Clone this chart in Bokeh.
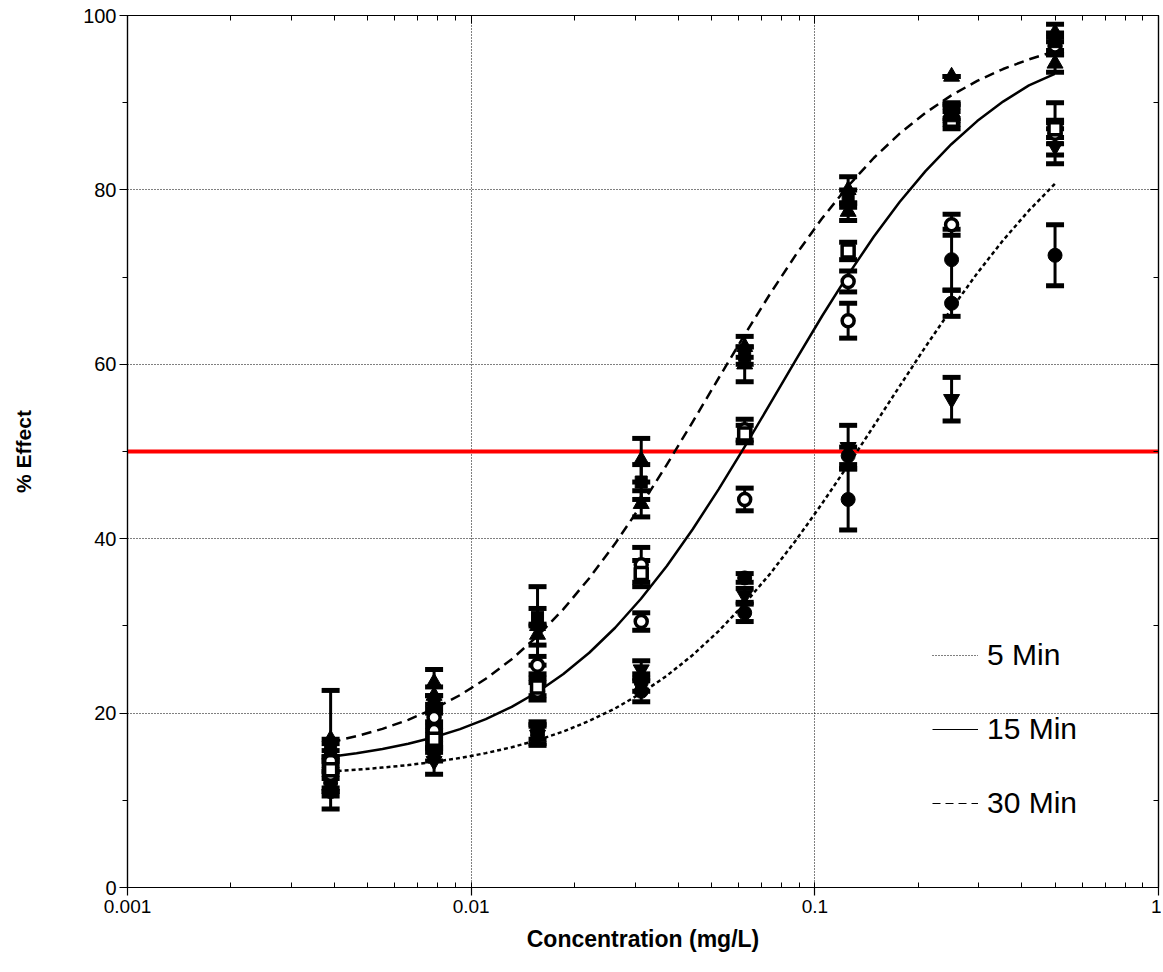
from bokeh.plotting import figure
from bokeh.models import (LogAxis, LinearAxis, LogTicker, SingleIntervalTicker, Span, Whisker,
                          TeeHead, ColumnDataSource, Legend, LegendItem, CustomJSTickFormatter, Range1d)
from bokeh.embed import file_html
from bokeh.resources import INLINE

# ---------------- data ----------------
conc = [0.0039, 0.0078, 0.0156, 0.03125, 0.0625, 0.125, 0.25, 0.5]

# 30 Min replicates
m30_a = [17.0, 23.5, 30.0, 49.0, 62.0, 80.0, 93.0, 98.0]
m30_a_sd = [5.6, 1.5, 4.5, 2.5, 1.2, 1.5, 0.0, 1.0]
m30_b = [15.5, 22.0, 29.0, 44.0, 60.0, 77.5, 89.0, 94.5]
m30_b_sd = [1.0, 1.0, 1.2, 1.5, 2.0, 1.0, 0.8, 1.0]
m30_c = [16.0, 21.0, 31.0, 46.5, 61.0, 79.0, 88.5, 97.0]
m30_c_sd = [1.0, 1.0, 1.0, 2.0, 1.0, 1.0, 1.0, 1.0]

# 15 Min replicates
m15_a = [14.5, 19.5, 25.5, 37.0, 52.5, 69.5, 89.0, 96.5]
m15_a_sd = [1.2, 1.0, 1.0, 2.0, 1.2, 1.2, 1.0, 1.0]
m15_b = [13.0, 18.0, 22.5, 30.5, 44.5, 65.0, 76.0, 86.5]
m15_b_sd = [2.0, 1.0, 1.0, 1.0, 1.3, 2.0, 1.2, 1.2]
m15_c = [13.5, 17.0, 23.0, 36.0, 52.0, 73.0, 88.0, 87.0]
m15_c_sd = [1.0, 1.0, 1.0, 1.5, 1.0, 1.0, 1.0, 1.0]

# 5 Min replicates
m5_a = [12.0, 16.5, 18.0, 22.5, 35.5, 49.5, 72.0, 87.0]
m5_a_sd = [1.5, 1.0, 1.0, 1.2, 0.5, 1.0, 3.5, 3.0]
m5_b = [11.0, 15.5, 17.5, 23.5, 31.5, 44.5, 67.0, 72.5]
m5_b_sd = [2.0, 1.0, 1.2, 1.0, 1.0, 3.5, 1.5, 3.5]
m5_c = [12.5, 14.5, 17.5, 25.0, 33.5, 50.5, 56.0, 85.0]
m5_c_sd = [1.5, 1.5, 1.0, 1.0, 0.8, 2.5, 2.5, 2.0]

# fitted dose-response curves
curve_x = [0.0039, 0.00464, 0.00552, 0.00656, 0.0078, 0.00928, 0.01103, 0.01312, 0.0156,
           0.01855, 0.02206, 0.02624, 0.0312, 0.0371, 0.04412, 0.05247, 0.0624, 0.07421,
           0.08825, 0.1049, 0.1248, 0.1484, 0.1765, 0.2099, 0.2496, 0.2968, 0.353, 0.4198, 0.4992]
curve_5 = [13.31, 13.51, 13.75, 14.04, 14.41, 14.85, 15.41, 16.08, 16.90, 17.89, 19.10, 20.54,
           22.26, 24.29, 26.66, 29.40, 32.53, 36.01, 39.86, 44.01, 48.40, 52.93, 57.49, 62.01,
           66.34, 70.44, 74.22, 77.64, 80.68]
curve_15 = [15.00, 15.39, 15.88, 16.48, 17.23, 18.16, 19.31, 20.71, 22.42, 24.48, 26.92, 29.79,
            33.11, 36.88, 41.08, 45.66, 50.50, 55.51, 60.56, 65.51, 70.23, 74.62, 78.61, 82.15,
            85.24, 87.89, 90.13, 91.99, 93.30]
curve_30 = [16.67, 17.35, 18.19, 19.23, 20.50, 22.06, 23.94, 26.18, 28.83, 31.92, 35.47, 39.44,
            43.81, 48.50, 53.40, 58.40, 63.35, 68.12, 72.61, 76.72, 80.41, 83.66, 86.46, 88.84,
            90.84, 92.50, 93.86, 94.97, 95.88]

legend_labels = ["5 Min", "15 Min", "30 Min"]
x_label = "Concentration (mg/L)"
y_label = "% Effect"
threshold = 50

# ---------------- figure ----------------
FONT = "Liberation Sans"
p = figure(width=1161, height=965, x_axis_type="log",
           x_range=Range1d(0.001, 1), y_range=Range1d(0, 100),
           output_backend="svg", toolbar_location=None,
           min_border_left=127, min_border_top=15, min_border_right=3, min_border_bottom=78)
p.outline_line_color = "black"
p.outline_line_width = 1.2
p.background_fill_color = "white"
p.border_fill_color = "white"

# bottom axis
xa = p.xaxis[0]
xa.ticker = LogTicker(mantissas=[1], num_minor_ticks=10)
xa.formatter = CustomJSTickFormatter(code="return String(Number(tick.toPrecision(3)));")
xa.major_tick_out = 8
xa.major_tick_in = 0
xa.minor_tick_in = 5
xa.minor_tick_out = 0
xa.major_label_text_font = FONT
xa.major_label_text_font_size = "19px"
xa.major_label_text_color = "black"
xa.major_label_standoff = 4
xa.axis_label = x_label
xa.axis_label_text_font = FONT
xa.axis_label_text_font_style = "bold"
xa.axis_label_text_font_size = "23px"
xa.axis_label_text_color = "black"
xa.axis_label_standoff = 10
xa.axis_line_width = 1.2
xa.major_tick_line_width = 1.2

# left axis
ya = p.yaxis[0]
ya.ticker = SingleIntervalTicker(interval=20, num_minor_ticks=2)
ya.major_tick_out = 8
ya.major_tick_in = 0
ya.minor_tick_out = 5
ya.minor_tick_in = 0
ya.major_label_text_font = FONT
ya.major_label_text_font_size = "20px"
ya.major_label_text_color = "black"
ya.major_label_standoff = 3
ya.axis_label = y_label
ya.axis_label_text_font = FONT
ya.axis_label_text_font_style = "bold"
ya.axis_label_text_font_size = "21px"
ya.axis_label_text_color = "black"
ya.axis_label_standoff = 45
ya.axis_line_width = 1.2
ya.major_tick_line_width = 1.2

# mirrored top and right axes (inward ticks, hidden labels)
top = LogAxis(ticker=LogTicker(mantissas=[1], num_minor_ticks=10),
              major_tick_in=8, major_tick_out=0, minor_tick_in=5, minor_tick_out=0,
              major_label_text_font_size="1px", major_label_text_alpha=0,
              major_label_standoff=0, axis_line_width=1.2)
p.add_layout(top, "above")
right = LinearAxis(ticker=SingleIntervalTicker(interval=20, num_minor_ticks=2),
                   major_tick_in=8, major_tick_out=0, minor_tick_in=5, minor_tick_out=0,
                   major_label_text_font_size="1px", major_label_text_alpha=0,
                   major_label_standoff=0, axis_line_width=1.2)
p.add_layout(right, "right")

# grids
p.xgrid.grid_line_color = "black"
p.xgrid.grid_line_dash = "1 2"
p.xgrid.grid_line_width = 1
p.ygrid.ticker = SingleIntervalTicker(interval=20)
p.ygrid.grid_line_color = "black"
p.ygrid.grid_line_dash = "1 2"
p.ygrid.grid_line_width = 1

# 50% line
p.add_layout(Span(location=threshold, dimension="width", line_color="#ff0000",
                  line_width=4, level="underlay"))

# fitted curves
p.line(curve_x, curve_5, line_color="black", line_width=2.5, line_dash="4 3", line_join="round")
p.line(curve_x, curve_15, line_color="black", line_width=2.5, line_join="round")
p.line(curve_x, curve_30, line_color="black", line_width=2.5, line_dash="10 6", line_join="round")

series = [
    (m5_a, m5_a_sd, "circle", "black", 14),
    (m5_b, m5_b_sd, "circle", "black", 14),
    (m5_c, m5_c_sd, "inverted_triangle", "black", 16),
    (m15_a, m15_a_sd, "circle", "white", 12),
    (m15_b, m15_b_sd, "circle", "white", 12),
    (m15_c, m15_c_sd, "square", "white", 12),
    (m30_c, m30_c_sd, "square", "black", 12),
    (m30_b, m30_b_sd, "triangle", "black", 16),
    (m30_a, m30_a_sd, "triangle", "black", 16),
]

for vals, sd, marker, fill, size in series:
    src = ColumnDataSource(dict(x=conc, y=vals,
                                upper=[v + s for v, s in zip(vals, sd)],
                                lower=[v - s for v, s in zip(vals, sd)]))
    p.add_layout(Whisker(source=src, base="x", upper="upper", lower="lower",
                         dimension="height", line_width=3, line_color="black",
                         upper_head=TeeHead(size=18, line_width=5, line_color="black"),
                         lower_head=TeeHead(size=18, line_width=5, line_color="black")))
    p.scatter("x", "y", source=src, marker=marker, size=size, fill_color=fill,
              line_color="black", line_width=3.5 if fill == "white" else 1)

# legend sample lines: single-point lines (nothing drawn in the plot, thin sample in legend)
l5 = p.line(curve_x[:1], curve_5[:1], line_color="black", line_width=1, line_dash="1 2")
l15 = p.line(curve_x[:1], curve_15[:1], line_color="black", line_width=1)
l30 = p.line(curve_x[:1], curve_30[:1], line_color="black", line_width=1, line_dash="8 5")
legend = Legend(items=[LegendItem(label=legend_labels[0], renderers=[l5]),
                       LegendItem(label=legend_labels[1], renderers=[l15]),
                       LegendItem(label=legend_labels[2], renderers=[l30])],
                location=(805, 67), border_line_alpha=0, background_fill_alpha=0,
                label_text_font=FONT, label_text_font_size="30px", label_text_color="black",
                glyph_width=46, glyph_height=32, label_height=32, spacing=40,
                padding=0, margin=0, label_standoff=9)
p.add_layout(legend)

open("out.html", "w").write(file_html(p, INLINE))
